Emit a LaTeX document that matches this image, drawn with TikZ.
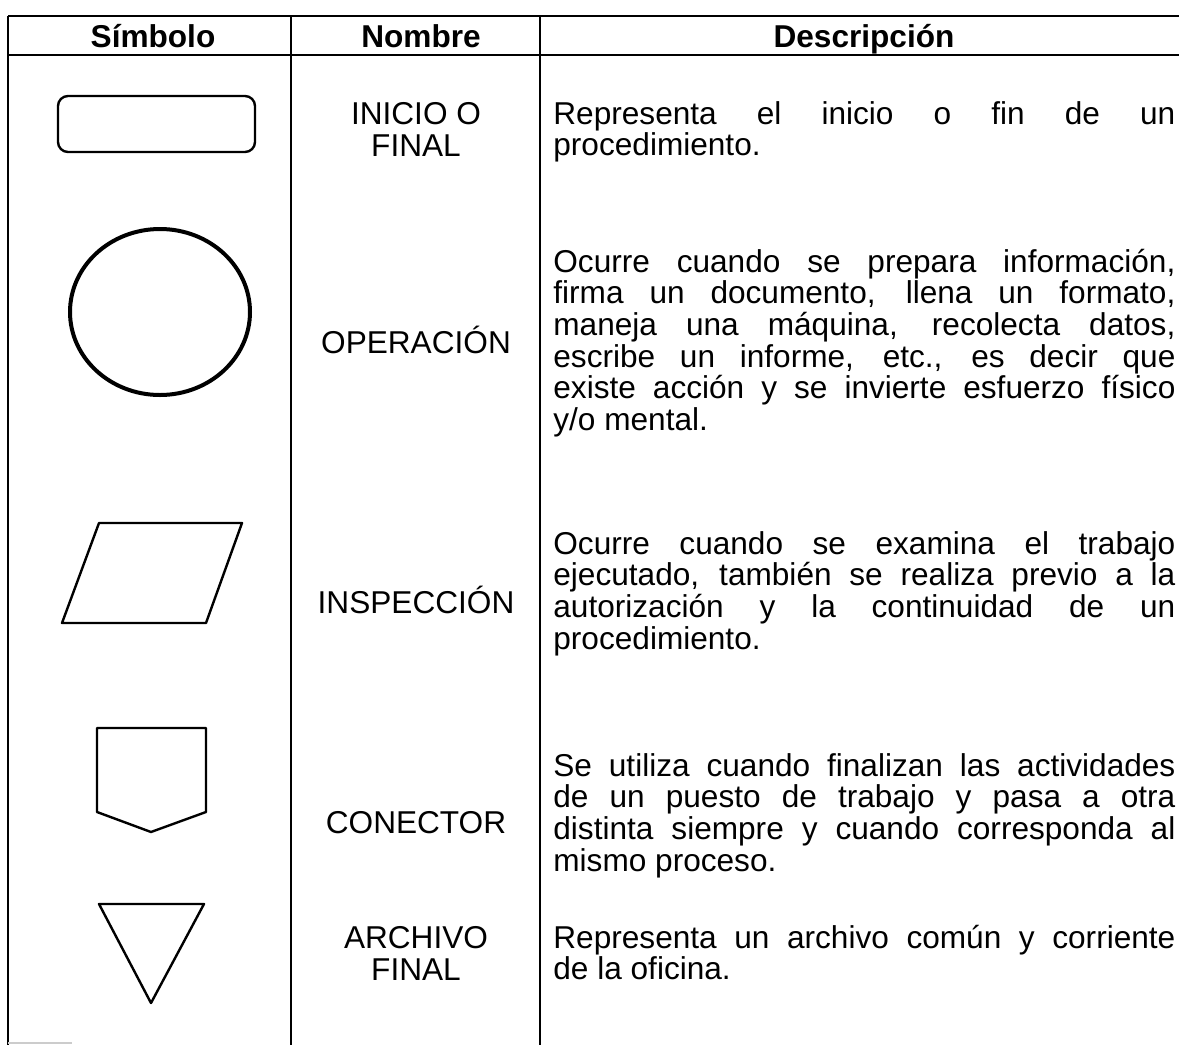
\documentclass[tikz,border=0pt]{standalone}
\usepackage{fontspec}
\setmainfont{Liberation Sans}
\usepackage{tikz}

\newcommand{\cellfont}{\fontsize{15.8pt}{15.85pt}\selectfont}

\tikzset{
	head/.style={anchor=base, inner sep=0pt, font=\cellfont\bfseries},
	symname/.style={anchor=base, inner sep=0pt, align=center, font=\cellfont},
	desc/.style={anchor=base west, inner sep=0pt, text width=311pt, align=justify, font=\cellfont,
		execute at begin node={\tolerance=10000\hyphenpenalty=10000}},
	rule/.style={line width=1pt},
	symbol/.style={line width=1.2pt}
}

\begin{document}
\begin{tikzpicture}[x=0.5pt, y=-0.5pt, line join=round]
			\useasboundingbox (0, 0) rectangle (1179, 1045);

			\draw [rule] (8, 16) -- (1179, 16);
			\draw [rule] (8, 55) -- (1179, 55);
			\draw [rule] (8, 16) -- (8, 1045);
			\draw [rule] (291, 16) -- (291, 1045);
			\draw [rule] (540, 16) -- (540, 1045);
			\draw [gray!40, line width=1pt] (8, 1043) -- (72, 1043);

			\node (hsym) at (153, 47) [head] {Símbolo};
			\node (hname) at (421, 47) [head] {Nombre};
			\node (hdesc) at (864, 47) [head] {Descripción};

			% inicio o final
			\draw [symbol, rounded corners=5pt] (58, 96) rectangle (255, 152);
			\node (name1) at (416, 156) [symname] {INICIO O\\FINAL};
			\node (desc1) at (553, 124) [desc] {Representa el inicio o fin de un\linebreak procedimiento.};

			% operacion
			\draw [line width=2pt] (160, 312) ellipse [x radius=45pt, y radius=41.5pt];
			\node (name2) at (416, 353) [symname] {OPERACIÓN};
			\node (desc2) at (553, 272) [desc] {Ocurre cuando se prepara información,\linebreak firma un documento, llena un formato,\linebreak maneja una máquina, recolecta datos,\linebreak escribe un informe, etc., es decir que\linebreak existe acción y se invierte esfuerzo físico\linebreak y/o mental.};

			% inspeccion
			\draw [symbol] (99, 523) -- (242, 523) -- (206, 623) -- (62, 623) -- cycle;
			\node (name3) at (416, 613) [symname] {INSPECCIÓN};
			\node (desc3) at (553, 554) [desc] {Ocurre cuando se examina el trabajo\linebreak ejecutado, también se realiza previo a la\linebreak autorización y la continuidad de un\linebreak procedimiento.};

			% conector
			\draw [symbol] (97, 728) -- (206, 728) -- (206, 812) -- (151, 832) -- (97, 812) -- cycle;
			\node (name4) at (416, 833) [symname] {CONECTOR};
			\node (desc4) at (553, 776) [desc] {Se utiliza cuando finalizan las actividades\linebreak de un puesto de trabajo y pasa a otra\linebreak distinta siempre y cuando corresponda al\linebreak mismo proceso.};

			% archivo final
			\draw [symbol] (99, 904) -- (204, 904) -- (151, 1003) -- cycle;
			\node (name5) at (416, 980) [symname] {ARCHIVO\\FINAL};
			\node (desc5) at (553, 948) [desc] {Representa un archivo común y corriente\linebreak de la oficina.};
		\end{tikzpicture}
\end{document}
